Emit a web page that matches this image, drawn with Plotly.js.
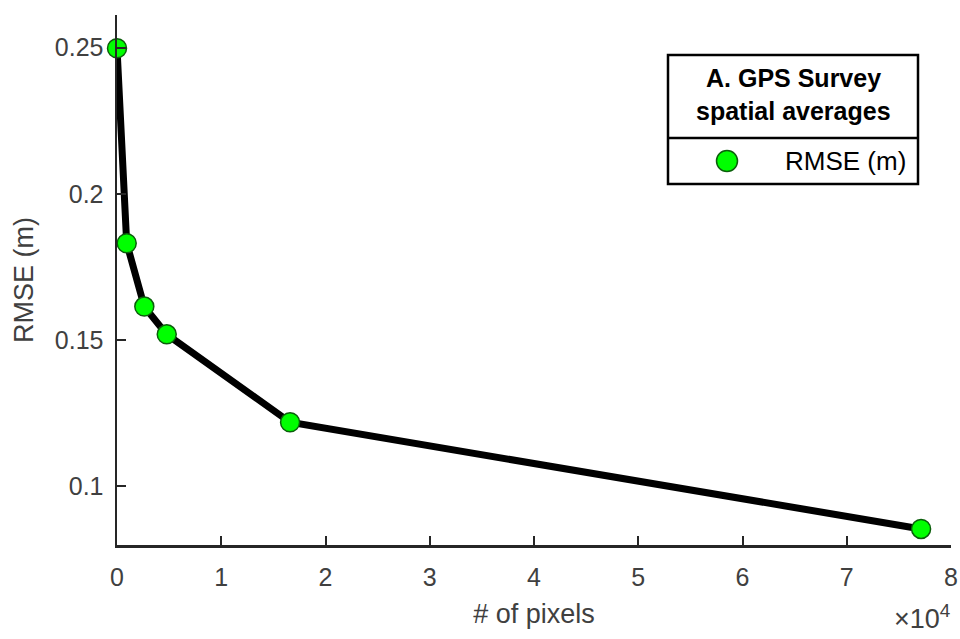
<!DOCTYPE html>
<html>
<head>
<meta charset="utf-8">
<script src="https://cdn.plot.ly/plotly-3.0.1.min.js"></script>
<style>
  html, body { margin: 0; padding: 0; background: #ffffff; }
  #chart { width: 960px; height: 639px; }
</style>
</head>
<body>
<div id="chart"></div>
<script>
// Pixel-averaging window size vs. RMSE against the GPS survey
const pixelCounts = [1, 930, 2620, 4770, 16600, 77130];
const rmseValues = [0.2498, 0.1831, 0.1614, 0.1519, 0.1218, 0.0853];
const xTickVals = [0, 10000, 20000, 30000, 40000, 50000, 60000, 70000, 80000];
const xTickText = ['0', '1', '2', '3', '4', '5', '6', '7', '8'];
const yTickVals = [0.1, 0.15, 0.2, 0.25];
const yTickText = ['0.1', '0.15', '0.2', '0.25'];
const seriesName = 'RMSE (m)';
const legendTitle = ['A. GPS Survey', 'spatial averages'];

const FONT = 'Liberation Sans, Arial, sans-serif';
const AXIS = '#262626';
const TICKFONT = '#404040';
const GREEN = '#00ff00';
const GREEN_EDGE = '#0b5e0b';

const traces = [
  {
    x: pixelCounts, y: rmseValues,
    mode: 'lines', type: 'scatter',
    line: { color: '#000000', width: 7 },
    showlegend: false, hoverinfo: 'skip'
  },
  {
    x: pixelCounts, y: rmseValues,
    mode: 'markers', type: 'scatter', name: seriesName,
    marker: { color: GREEN, size: 19, line: { color: GREEN_EDGE, width: 1.5 } },
    showlegend: false, cliponaxis: false
  }
];

// legend box drawn in pixel-matched paper coordinates
const W = 960, H = 639;
const L = 117, R = 9, T = 15, B = 94;
const pw = W - L - R, ph = H - T - B;
const px = v => (v - L) / pw;
const py = v => (H - B - v) / ph;

const box = { x0: 668, x1: 918, y0: 55, y1: 184, div: 138 };

const layout = {
  width: W, height: H,
  margin: { l: L, r: R, t: T, b: B, pad: 0 },
  paper_bgcolor: '#ffffff', plot_bgcolor: '#ffffff',
  font: { family: FONT, color: TICKFONT, size: 25 },
  showlegend: false,
  xaxis: {
    range: [0, 80000],
    tickvals: xTickVals, ticktext: xTickText,
    ticks: 'inside', ticklen: 9, tickwidth: 2, tickcolor: AXIS,
    showline: true, linecolor: AXIS, linewidth: 2.5,
    showgrid: false, zeroline: false,
    tickfont: { family: FONT, size: 25, color: TICKFONT },
    ticklabelstandoff: 8,
    title: { text: '# of pixels', font: { family: FONT, size: 27, color: TICKFONT }, standoff: 15 }
  },
  yaxis: {
    range: [0.0798, 0.2612],
    tickvals: yTickVals, ticktext: yTickText,
    ticks: 'inside', ticklen: 9, tickwidth: 2, tickcolor: AXIS,
    showline: true, linecolor: AXIS, linewidth: 2.5,
    showgrid: false, zeroline: false,
    tickfont: { family: FONT, size: 25, color: TICKFONT },
    ticklabelstandoff: 6,
    title: { text: 'RMSE (m)', font: { family: FONT, size: 27, color: TICKFONT }, standoff: 14 }
  },
  shapes: [
    { type: 'rect', xref: 'paper', yref: 'paper',
      x0: px(box.x0), x1: px(box.x1), y0: py(box.y1), y1: py(box.y0),
      line: { color: '#000000', width: 2.5 }, fillcolor: '#ffffff', layer: 'above' },
    { type: 'line', xref: 'paper', yref: 'paper',
      x0: px(box.x0), x1: px(box.x1), y0: py(box.div), y1: py(box.div),
      line: { color: '#000000', width: 2.5 }, layer: 'above' },
    { type: 'circle', xref: 'paper', yref: 'paper',
      x0: px(727 - 10.5), x1: px(727 + 10.5), y0: py(161 + 10.5), y1: py(161 - 10.5),
      fillcolor: GREEN, line: { color: GREEN_EDGE, width: 1.5 }, layer: 'above' }
  ],
  annotations: [
    { xref: 'paper', yref: 'paper', x: px(793), y: py(78), showarrow: false,
      xanchor: 'center', yanchor: 'middle',
      text: '<b>' + legendTitle[0] + '</b>', font: { family: FONT, size: 25, color: '#000000' } },
    { xref: 'paper', yref: 'paper', x: px(793), y: py(111), showarrow: false,
      xanchor: 'center', yanchor: 'middle',
      text: '<b>' + legendTitle[1] + '</b>', font: { family: FONT, size: 25, color: '#000000' } },
    { xref: 'paper', yref: 'paper', x: px(908), y: py(161), showarrow: false,
      xanchor: 'right', yanchor: 'middle',
      text: seriesName, font: { family: FONT, size: 26, color: '#000000' } },
    { xref: 'paper', yref: 'paper', x: px(952), y: py(617), showarrow: false,
      xanchor: 'right', yanchor: 'middle',
      text: '\u00d710<sup>4</sup>', font: { family: FONT, size: 27, color: TICKFONT } }
  ]
};

Plotly.newPlot('chart', traces, layout, { displayModeBar: false, staticPlot: true });
</script>
</body>
</html>
